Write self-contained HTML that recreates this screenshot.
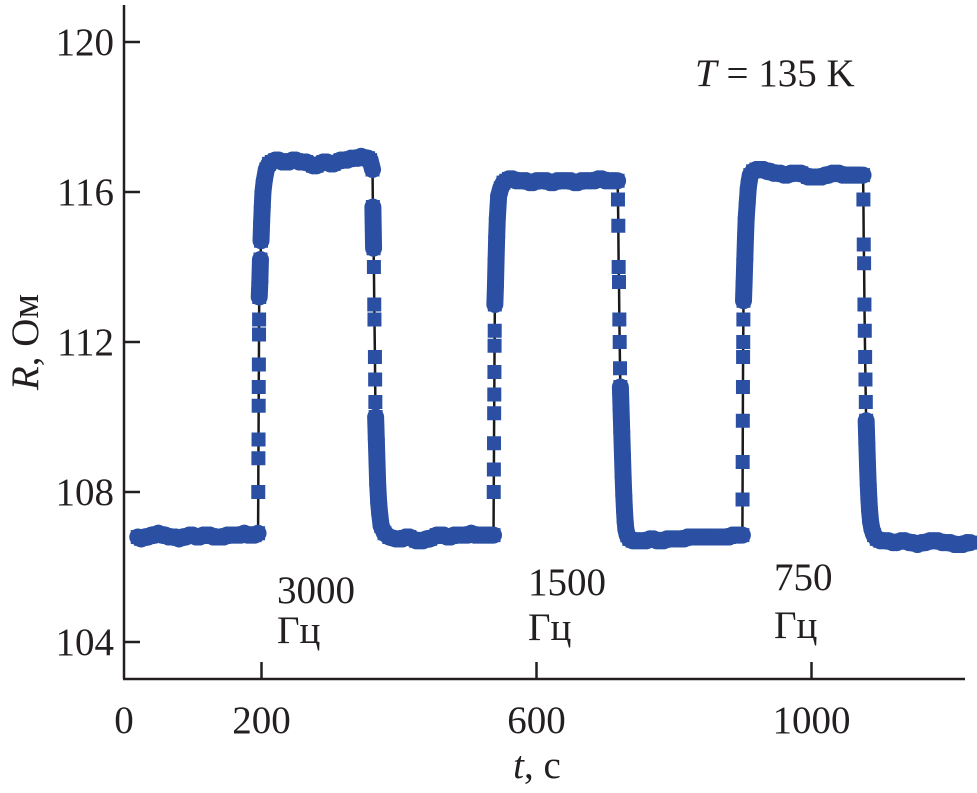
<!DOCTYPE html>
<html><head><meta charset="utf-8">
<style>
html,body{margin:0;padding:0;background:#fff;}
svg{display:block;}
text{font-family:"Liberation Serif",serif;fill:#231f20;}
</style></head>
<body>
<svg id="chart" width="977" height="793" viewBox="0 0 977 793">
<g id="axes"></g>
<g id="series"></g>
<text x="695" y="86" font-size="39"><tspan font-style="italic">T</tspan> = 135 K</text>
<text transform="translate(38,342) rotate(-90)" text-anchor="middle" font-size="39"><tspan font-style="italic">R</tspan>, Ом</text>
<text x="537" y="778" text-anchor="middle" font-size="39"><tspan font-style="italic">t</tspan>, с</text>
<text x="277" y="603" font-size="39">3000</text>
<text x="277" y="643" font-size="39">Гц</text>
<text x="528" y="595" font-size="39">1500</text>
<text x="528" y="640" font-size="39">Гц</text>
<text x="774" y="590" font-size="39">750</text>
<text x="774" y="638" font-size="39">Гц</text>
</svg>
<script>
const xTicks=[0,200,600,1000];
const yTicks=[104,108,112,116,120];
const times=[20,25,30,35,40,45,50,55,60,65,70,75,80,85,90,95,100,105,110,115,120,125,130,135,140,145,150,155,160,165,170,175,180,185,190,195,
195.3,195.5,195.7,195.9,196.0,196.2,196.4,196.5,196.7,197.6,198.5,199.3,200.2,201.1,202.1,204,207,211,215,
220,225,230,235,240,245,250,255,260,265,270,275,280,285,290,295,300,305,310,315,320,325,330,335,340,345,350,355,358,
361.5,362,363,363.5,364,364.3,365,365.3,365.6,366,367,368,369,370.5,372,374,379,386,
395,400,405,410,415,420,425,430,435,440,445,450,455,460,465,470,475,480,485,490,495,500,505,510,515,520,525,530,535,537.5,
537.8,538.0,538.2,538.4,538.6,538.8,539.0,539.2,539.4,540.3,541.2,542.1,543,544,545,548,552,556,560,
565,570,575,580,585,590,595,600,605,610,615,620,625,630,635,640,645,650,655,660,665,670,675,680,685,690,695,700,705,710,715,718,
718.5,719,719.5,720,720.5,721,721.5,722,723,724,725,726,727,728,729,730,732,735,740,745,
750,755,760,765,770,775,780,785,790,795,800,805,810,815,820,825,830,835,840,845,850,855,860,865,870,875,880,885,890,895,899.5,
899.7,899.9,900.1,900.3,900.5,900.7,900.9,901.1,902,903,904,905,906.5,908,909.5,911,915,920,
925,930,935,940,945,950,955,960,965,970,975,980,985,990,995,1000,1005,1010,1015,1020,1025,1030,1035,1040,1045,1050,1055,1060,1065,1070,1075,
1075.5,1076,1076.5,1077,1077.5,1078,1078.5,1079,1079.5,1080.5,1081.5,1082.5,1083.5,1084.5,1086,1088,1091,1095,1100,1106,
1112,1118,1124,1130,1136,1142,1148,1154,1160,1166,1172,1178,1184,1190,1196,1202,1208,1214,1220,1226,1231];
const resistance=[106.8,106.75,106.8,106.8,106.85,106.85,106.9,106.85,106.85,106.8,106.8,106.8,106.75,106.8,106.8,106.85,106.85,106.8,106.8,106.85,106.85,106.85,106.8,106.8,106.8,106.8,106.85,106.85,106.85,106.85,106.85,106.9,106.85,106.85,106.85,106.9,
108.0,108.9,109.4,110.3,110.8,111.4,112.2,112.6,113.2,113.6,114.2,114.7,115.2,115.6,116.0,116.3,116.6,116.75,116.8,
116.85,116.85,116.8,116.8,116.8,116.85,116.85,116.8,116.8,116.8,116.75,116.7,116.7,116.75,116.8,116.8,116.75,116.75,116.8,116.85,116.85,116.85,116.9,116.9,116.9,116.95,116.9,116.9,116.85,
116.6,115.6,114.5,114.0,113.0,112.6,111.6,111.0,110.4,110.0,109.4,108.8,108.2,107.7,107.4,107.1,106.9,106.8,
106.75,106.75,106.75,106.8,106.8,106.75,106.7,106.7,106.7,106.75,106.75,106.8,106.85,106.85,106.85,106.8,106.8,106.85,106.85,106.85,106.85,106.85,106.9,106.85,106.85,106.85,106.85,106.85,106.85,106.85,
108.0,108.6,109.3,110.1,110.6,111.2,111.9,112.3,113.0,113.5,114.2,114.8,115.3,115.6,115.9,116.1,116.25,116.3,116.35,
116.35,116.3,116.3,116.3,116.3,116.25,116.25,116.3,116.3,116.3,116.3,116.25,116.25,116.3,116.3,116.3,116.3,116.3,116.25,116.25,116.3,116.3,116.3,116.3,116.3,116.35,116.35,116.3,116.3,116.3,116.3,116.3,
115.8,115.1,114.0,113.6,112.6,112.0,111.3,110.8,110.2,109.6,109.0,108.4,107.9,107.5,107.2,107.0,106.85,106.75,106.7,106.7,
106.7,106.7,106.7,106.75,106.75,106.7,106.7,106.7,106.75,106.75,106.75,106.75,106.75,106.75,106.8,106.8,106.8,106.8,106.8,106.8,106.8,106.8,106.8,106.8,106.8,106.8,106.8,106.85,106.85,106.85,106.85,
107.8,108.8,109.9,110.8,111.6,112.0,112.6,113.1,113.6,114.2,114.8,115.3,115.7,116.1,116.3,116.45,116.55,116.6,
116.6,116.6,116.55,116.55,116.5,116.5,116.5,116.45,116.45,116.5,116.5,116.5,116.5,116.45,116.4,116.4,116.4,116.4,116.4,116.45,116.45,116.5,116.5,116.5,116.45,116.45,116.45,116.45,116.45,116.45,116.45,
115.8,114.6,114.1,113.0,112.3,111.6,111.0,110.4,109.9,109.3,108.7,108.2,107.8,107.5,107.2,107.0,106.85,106.75,106.7,106.7,
106.7,106.65,106.65,106.7,106.7,106.65,106.65,106.6,106.65,106.65,106.7,106.7,106.7,106.65,106.65,106.65,106.6,106.6,106.6,106.65,106.65];

const X0=124, Y0=679, XR=965, YTOP=5;
const xScale=t=>X0+t*(275/400);
const yScale=r=>492-(r-108)*37.5;
const NS='http://www.w3.org/2000/svg';
const axes=document.getElementById('axes');
const series=document.getElementById('series');
function mk(tag,attrs,parent){const e=document.createElementNS(NS,tag);for(const k in attrs)e.setAttribute(k,attrs[k]);parent.appendChild(e);return e;}

const yAxis=mk('line',{x1:X0,y1:YTOP,x2:X0,y2:Y0,stroke:'#231f20','stroke-width':2.5},axes);


const xAxis=mk('line',{x1:X0-1,y1:Y0,x2:XR,y2:Y0,stroke:'#231f20','stroke-width':2.5},axes);



yTicks.forEach(v=>{
  const y=yScale(v);
  const tk=mk('line',{x1:X0,y1:y,x2:X0+16,y2:y,stroke:'#231f20','stroke-width':2.5},axes);
  
  
  const lb=mk('text',{x:X0-10,y:y+13,'text-anchor':'end','font-size':39},axes);
  lb.textContent=v;
  
  
});
xTicks.forEach(v=>{
  const x=xScale(v);
  if(v!==0){
    const tk=mk('line',{x1:x,y1:Y0,x2:x,y2:Y0-17,stroke:'#231f20','stroke-width':2.5},axes);
    
    
  }
  const lb=mk('text',{x:x,y:733,'text-anchor':'middle','font-size':39},axes);
  lb.textContent=v;
  
  
});

const pts=times.map((t,i)=>xScale(t).toFixed(2)+','+yScale(resistance[i]).toFixed(2)).join(' ');
const ln=mk('polyline',{points:pts,fill:'none',stroke:'#1a1a1a','stroke-width':2.5},series);


for(let i=1;i<times.length;i++){
  if(times[i]-times[i-1]>=0.85){
    const b=mk('line',{x1:xScale(times[i-1]),y1:yScale(resistance[i-1]),x2:xScale(times[i]),y2:yScale(resistance[i]),stroke:'#2b50a3','stroke-width':17,'stroke-linecap':'round'},series);
    
    
  }
}
times.forEach((t,i)=>{
  const r=mk('rect',{x:xScale(t)-7,y:yScale(resistance[i])-7,width:14,height:14,fill:'#2b50a3'},series);
  
  
});
</script>
</body></html>
